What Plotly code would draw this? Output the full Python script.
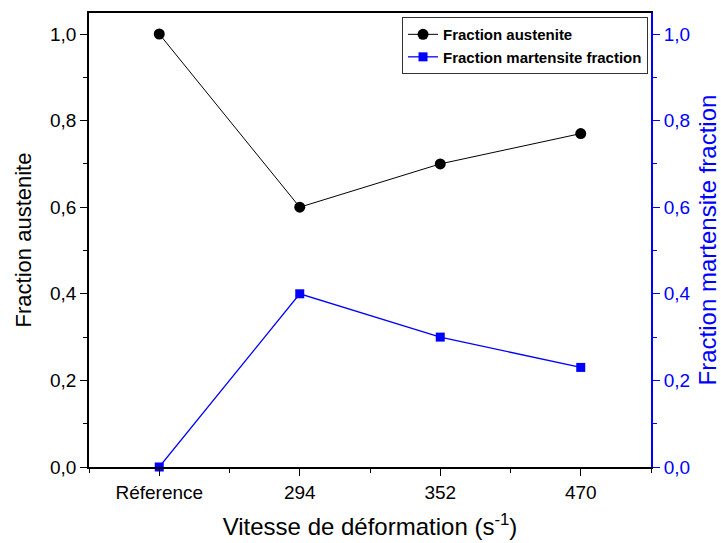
import plotly.graph_objects as go

# Strain-rate conditions and phase fractions
categories = ["Réference", "294", "352", "470"]
austenite = [1.0, 0.6, 0.7, 0.77]
martensite = [0.0, 0.4, 0.3, 0.23]
y_ticks = [0.0, 0.2, 0.4, 0.6, 0.8, 1.0]

x_pos = list(range(len(categories)))
FONT = "Liberation Sans, Arial, sans-serif"
BLUE = "#0000ff"

fig = go.Figure()
fig.add_trace(go.Scatter(
    x=x_pos, y=austenite, name="Fraction austenite",
    mode="lines+markers",
    line=dict(color="black", width=1),
    marker=dict(symbol="circle", size=11, color="black"),
))
fig.add_trace(go.Scatter(
    x=x_pos, y=martensite, name="Fraction martensite fraction",
    mode="lines+markers", yaxis="y2",
    line=dict(color=BLUE, width=1.3),
    marker=dict(symbol="square", size=9, color=BLUE),
    cliponaxis=False,
))

fig.update_layout(
    width=721, height=543,
    margin=dict(l=89, r=70, t=13, b=76),
    paper_bgcolor="white", plot_bgcolor="white",
    separators=",.",
    font=dict(family=FONT, size=19, color="black"),
    showlegend=True,
    legend=dict(
        x=0.9947, y=0.991, xanchor="right", yanchor="top",
        bordercolor="#333", borderwidth=1, bgcolor="white",
        font=dict(family=FONT, size=15, color="black", weight="bold"),
        tracegroupgap=0, itemwidth=30,
    ),
    xaxis=dict(
        range=[-0.5, 3.5], automargin=False,
        tickvals=x_pos, ticktext=categories,
        showgrid=False, zeroline=False,
        showline=True, linecolor="black", linewidth=1.5, mirror=True,
        ticks="outside", ticklen=7, tickwidth=1.2, tickcolor="black",
        tickfont=dict(size=19),
        minor=dict(dtick=0.5, tick0=-0.5, ticks="outside", ticklen=4,
                   tickwidth=1.2, tickcolor="black", showgrid=False),
        title=dict(text="Vitesse de déformation (s<sup>-1</sup>)",
                   font=dict(size=24), standoff=17),
    ),
    yaxis=dict(
        range=[0, 1.0485], automargin=False,
        tickvals=y_ticks, tickformat=".1f",
        showgrid=False, zeroline=False,
        showline=True, linecolor="black", linewidth=1.5,
        ticks="outside", ticklen=7, tickwidth=1.2, tickcolor="black",
        tickfont=dict(size=19),
        minor=dict(dtick=0.1, ticks="outside", ticklen=4, tickwidth=1.2,
                   tickcolor="black", showgrid=False),
        title=dict(text="Fraction austenite", font=dict(size=22), standoff=12),
    ),
    yaxis2=dict(
        range=[0, 1.0485], overlaying="y", side="right", automargin=False,
        tickvals=y_ticks, tickformat=".1f",
        showgrid=False, zeroline=False,
        showline=True, linecolor=BLUE, linewidth=1.8,
        ticks="outside", ticklen=7, tickwidth=1.2, tickcolor=BLUE,
        tickfont=dict(size=19, color=BLUE),
        minor=dict(dtick=0.1, ticks="outside", ticklen=4, tickwidth=1.2,
                   tickcolor=BLUE, showgrid=False),
        title=dict(text="Fraction martensite fraction",
                   font=dict(size=24, color=BLUE), standoff=14),
    ),
)

fig.write_html("out.html")
